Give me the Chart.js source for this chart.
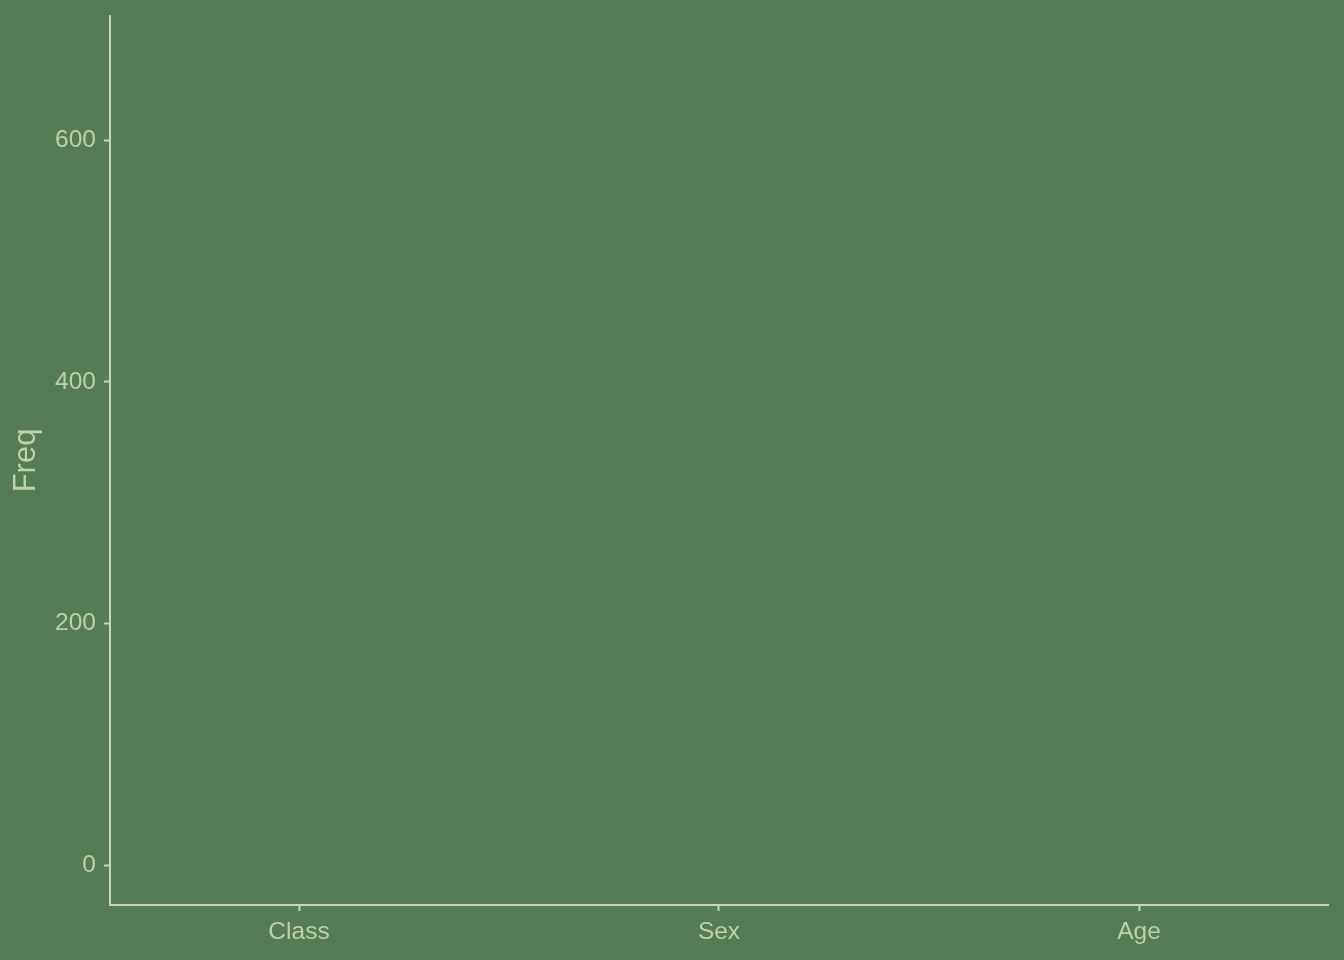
<!DOCTYPE html>
<html>
<head>
<meta charset="utf-8">
<script src="https://cdn.jsdelivr.net/npm/chart.js@4/dist/chart.umd.min.js"></script>
<style>
html,body{margin:0;padding:0;background:#557B57;}
#wrap{width:1344px;height:960px;position:relative;}
</style>
</head>
<body>
<div id="wrap"><canvas id="c" width="1344" height="960"></canvas></div>
<script>
// Data (the reference shows no marks: every frequency is missing)
const categories = ["Class", "Sex", "Age"];
const freq = [null, null, null];
const yTicks = [0, 200, 400, 600];
const yTitle = "Freq";

const BG = "#557B57";
const LINE = "#C8D5AE";
const TEXT = "#BFD0A6";
const FONT = "'Liberation Sans', Arial, Helvetica, sans-serif";

const bgPlugin = {
  id: "bg",
  beforeDraw(chart) {
    const ctx = chart.ctx;
    ctx.save();
    ctx.fillStyle = BG;
    ctx.fillRect(0, 0, chart.width, chart.height);
    ctx.restore();
  }
};

new Chart(document.getElementById("c"), {
  type: "scatter",
  data: {
    datasets: [{
      label: yTitle,
      data: categories.map((c, i) => ({ x: i, y: freq[i] })),
      backgroundColor: LINE,
      borderColor: LINE,
      pointRadius: 3
    }]
  },
  options: {
    responsive: false,
    animation: false,
    layout: { padding: { top: 16, right: 16, left: 0, bottom: 0 } },
    plugins: { legend: { display: false }, tooltip: { enabled: false } },
    scales: {
      x: {
        type: "linear",
        min: -0.45,
        max: 2.45,
        afterBuildTicks(scale) { scale.ticks = categories.map((c, i) => ({ value: i })); },
        afterFit(scale) { scale.height = 55; scale.paddingLeft = 0; scale.paddingRight = 0; },
        ticks: {
          callback: (v) => categories[v] ?? "",
          color: TEXT,
          font: { family: FONT, size: 24.5 },
          padding: 7,
          autoSkip: false,
          maxRotation: 0
        },
        grid: { drawOnChartArea: false, drawTicks: true, tickLength: 6, tickWidth: 2, color: LINE },
        border: { display: true, color: LINE, width: 2 }
      },
      y: {
        type: "linear",
        min: -33,
        max: 703,
        afterBuildTicks(scale) { scale.ticks = yTicks.map(v => ({ value: v })); },
        afterFit(scale) { scale.width = 110; scale.paddingTop = 0; scale.paddingBottom = 0; },
        ticks: {
          color: TEXT,
          font: { family: FONT, size: 24.5 },
          padding: 8
        },
        title: {
          display: true,
          text: yTitle,
          color: TEXT,
          font: { family: FONT, size: 31 },
          padding: { top: 8, bottom: 0 }
        },
        grid: { drawOnChartArea: false, drawTicks: true, tickLength: 6, tickWidth: 2, color: LINE },
        border: { display: true, color: LINE, width: 2 }
      }
    }
  },
  plugins: [bgPlugin]
});
</script>
</body>
</html>
